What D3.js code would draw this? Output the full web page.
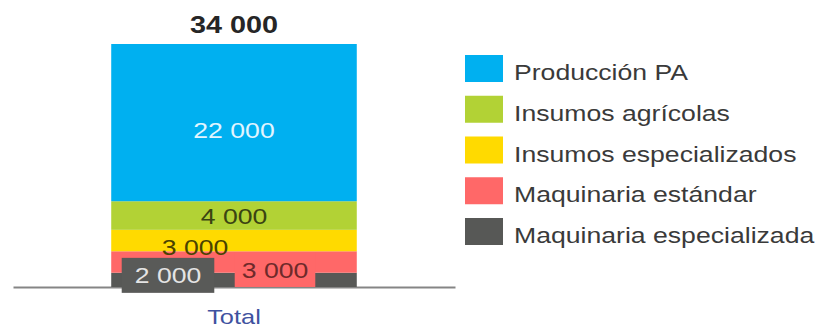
<!DOCTYPE html>
<html><head><meta charset="utf-8">
<script src="https://cdn.jsdelivr.net/npm/d3@7"></script>
<style>body{margin:0;background:#fff}svg{display:block}text{font-family:"Liberation Sans",Arial,sans-serif}</style>
</head><body><svg id="c" width="815" height="329"></svg>
<script>
const categories = ["Total"];
const seriesNames = ["Maquinaria especializada","Maquinaria estándar","Insumos especializados","Insumos agrícolas","Producción PA"];
const seriesValues = [2000, 3000, 3000, 4000, 22000];
const valueLabels = ["2 000","3 000","3 000","4 000","22 000"];
const totalLabel = "34 000";
const legendOrder = ["Producción PA","Insumos agrícolas","Insumos especializados","Maquinaria estándar","Maquinaria especializada"];

const colors = {"Producción PA":"#00b0f0","Insumos agrícolas":"#b2d235","Insumos especializados":"#ffda00","Maquinaria estándar":"#ff6868","Maquinaria especializada":"#575856"};
const labelStyle = {
  "Maquinaria especializada":{dx:-66,dy:-5,fill:"#e4e4e4",box:"#595a58",padX:13,padTop:17,padBot:18},
  "Maquinaria estándar":{dx:41,dy:8,fill:"#6e2a2a",box:"#ff6868",padX:7,padTop:17,padBot:17},
  "Insumos especializados":{dx:-39,dy:6,fill:"#4a4300"},
  "Insumos agrícolas":{dx:0,dy:0,fill:"#3a4412"},
  "Producción PA":{dx:0,dy:7,fill:"#e2f5ff"}
};
const SX = 1.21;

const svg = d3.select("#c");
const x = d3.scaleBand().domain(categories).range([13,455]).paddingInner(0).paddingOuter(0.4);
const total = d3.sum(seriesValues);
const y = d3.scaleLinear().domain([0,total]).range([287,44]);

// axis
const ax = svg.append("g").attr("transform","translate(0,287)")
  .call(d3.axisBottom(x).tickSize(0).tickSizeOuter(0));
ax.select(".domain").attr("stroke","#858585").attr("stroke-width",2.2);
ax.selectAll(".tick text").remove();
ax.selectAll(".tick").append("text")
  .attr("transform",`translate(0,37) scale(${SX},1)`)
  .attr("text-anchor","middle").attr("fill","#3f52a0")
  .style("font-size","21px").text(d=>d);

// stacked segments
let acc = 0;
const segs = seriesNames.map((n,i)=>{const s={name:n,v:seriesValues[i],lab:valueLabels[i],y0:acc,y1:acc+seriesValues[i]};acc+=seriesValues[i];return s;});
const cx = x("Total") + x.bandwidth()/2;
svg.append("g").selectAll("rect").data(segs).join("rect")
  .attr("x",x("Total")).attr("width",x.bandwidth())
  .attr("y",d=>y(d.y1)).attr("height",d=>y(d.y0)-y(d.y1))
  .attr("fill",d=>colors[d.name]);

// labels
const lg = svg.append("g");
segs.forEach(d=>{
  const st = labelStyle[d.name];
  const tx = cx + st.dx, ty = (y(d.y0)+y(d.y1))/2 + st.dy;
  const g = lg.append("g").attr("transform",`translate(${tx},${ty})`);
  const t = g.append("text").attr("transform",`scale(${SX},1)`)
    .attr("text-anchor","middle").attr("y",8).attr("fill",st.fill)
    .style("font-size","22px").text(d.lab);
  if (st.box) {
    const w = t.node().getBBox().width*SX;
    g.insert("rect","text").attr("x",-w/2-st.padX).attr("width",w+2*st.padX)
      .attr("y",-st.padTop).attr("height",st.padTop+st.padBot).attr("fill",st.box);
  }
});
svg.append("text").attr("transform",`translate(${cx},33) scale(1.2,1)`)
  .attr("text-anchor","middle").attr("fill","#262626").style("font-size","24px")
  .style("font-weight","bold").text(totalLabel);

// legend
const leg = svg.append("g").attr("transform","translate(465,55)");
const items = leg.selectAll("g").data(legendOrder).join("g")
  .attr("transform",(d,i)=>`translate(0,${i*40.75})`);
items.append("rect").attr("width",38).attr("height",27).attr("fill",d=>colors[d]);
items.append("text").attr("transform",`translate(49,25) scale(${SX},1)`)
  .attr("fill","#3a3a3a").style("font-size","22px").text(d=>d);
</script></body></html>
